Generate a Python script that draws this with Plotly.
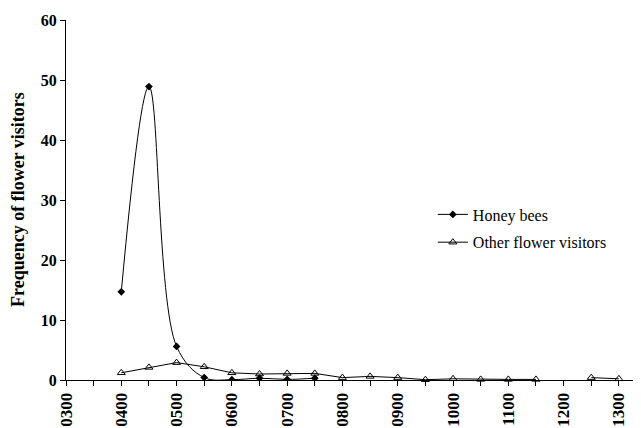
import plotly.graph_objects as go

# Data (half-hour slots, 24h clock)
times = ['0400', '0430', '0500', '0530', '0600', '0630', '0700', '0730', '0800', '0830',
         '0900', '0930', '1000', '1030', '1100', '1130', '1200', '1230', '1300']
honey_bees = [14.7, 48.9, 5.6, 0.4, 0.05, 0.3, 0.1, 0.3, None, None,
              None, None, None, None, None, None, None, None, None]
other_visitors = [1.2, 2.1, 2.9, 2.2, 1.2, 1.0, 1.1, 1.1, 0.4, 0.6,
                  0.4, 0.05, 0.2, 0.1, 0.1, 0.1, None, 0.4, 0.2]
hour_labels = ['0300', '0400', '0500', '0600', '0700', '0800', '0900', '1000', '1100', '1200', '1300']

font_family = 'Liberation Serif, Times New Roman, serif'


def to_hours(t):
    return int(t[:2]) + int(t[2:]) / 60


x_vals = [to_hours(t) for t in times]
tick_vals = [to_hours(t) for t in hour_labels]

fig = go.Figure()

fig.add_trace(go.Scatter(
    x=x_vals, y=honey_bees,
    mode='lines+markers',
    name='Honey bees',
    legendgroup='a',
    line=dict(color='black', width=1, shape='spline', smoothing=1.0),
    marker=dict(symbol='diamond', size=6, color='black'),
))

fig.add_trace(go.Scatter(
    x=x_vals, y=other_visitors,
    mode='lines+markers',
    name='Other flower visitors',
    legendgroup='b',
    connectgaps=False,
    line=dict(color='black', width=1),
    marker=dict(symbol='triangle-up-open', size=7, color='black', line=dict(width=1)),
    cliponaxis=False,
))

# page has an 8px body margin, so the figure is a bit smaller than the window
fig.update_layout(
    width=633, height=420,
    paper_bgcolor='white', plot_bgcolor='white',
    margin=dict(l=58, r=0, t=12, b=48),
    font=dict(family=font_family, color='black'),
    showlegend=True,
    legend=dict(
        x=0.638, y=0.507, xanchor='left', yanchor='top',
        font=dict(family=font_family, size=16, color='black'),
        tracegroupgap=4,
        traceorder='grouped',
        bgcolor='rgba(0,0,0,0)',
    ),
)

# y-axis title as an annotation so it can sit close to the edge
fig.add_annotation(
    text='Frequency of flower visitors',
    xref='paper', yref='paper', x=0, y=0.5,
    xshift=-48, xanchor='center', yanchor='middle',
    textangle=-90, showarrow=False,
    font=dict(family=font_family, size=18, color='black', weight='bold'),
)

fig.update_xaxes(
    range=[3, 13.4], automargin=False,
    tickmode='array', tickvals=tick_vals, ticktext=hour_labels,
    tickangle=-90,
    tickfont=dict(family=font_family, size=17, color='black', weight='bold'),
    ticks='outside', ticklen=5, tickcolor='black',
    minor=dict(dtick=0.5, tick0=3, ticks='outside', ticklen=5, tickcolor='black'),
    showline=True, linecolor='black', linewidth=1,
    showgrid=False, zeroline=False,
)

fig.update_yaxes(
    range=[0, 60], dtick=10, automargin=False,
    tickfont=dict(family=font_family, size=16, color='black', weight='bold'),
    ticks='outside', ticklen=5, tickcolor='black',
    showline=True, linecolor='black', linewidth=1,
    showgrid=False, zeroline=False,
)

fig.write_html("out.html")
